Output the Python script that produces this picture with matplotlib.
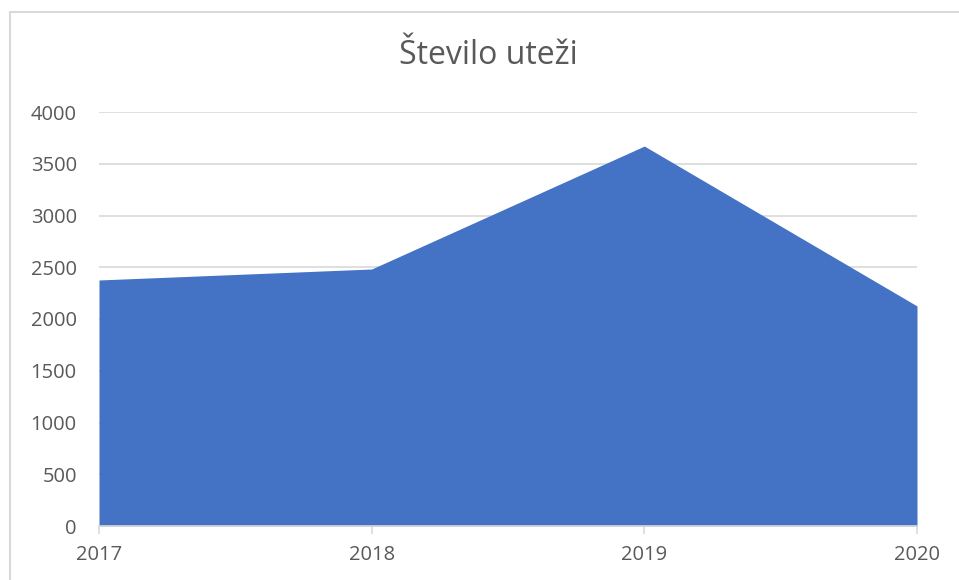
import matplotlib.pyplot as plt
import matplotlib.patches as mpatches

years = ["2017", "2018", "2019", "2020"]
weights = [2377, 2483, 3671, 2126]
y_ticks = [0, 500, 1000, 1500, 2000, 2500, 3000, 3500, 4000]

plt.rcParams['font.family'] = ['Open Sans', 'DejaVu Sans']

fig = plt.figure(figsize=(9.59, 5.80), dpi=100)
ax = fig.add_axes([99 / 959, 54 / 580, 818 / 959, 414 / 580])

x = list(range(len(years)))
ax.fill_between(x, 0, weights, color='#4472C4', linewidth=0, zorder=2)

ax.set_xlim(0, len(years) - 1)
ax.set_ylim(0, 4000)
ax.set_yticks(y_ticks)
ax.set_xticks(x)
ax.set_xticklabels(years)

ax.grid(axis='y', color='#D9D9D9', linewidth=1.2, zorder=1)
ax.set_axisbelow(True)
for s in ['top', 'right', 'left']:
    ax.spines[s].set_visible(False)
ax.spines['bottom'].set_color('#D9D9D9')
ax.spines['bottom'].set_linewidth(1.2)
ax.spines['bottom'].set_zorder(3)

ax.tick_params(axis='y', length=0, pad=16, labelsize=14.5, labelcolor='#595959')
ax.tick_params(axis='x', length=6, width=1.2, color='#D9D9D9', pad=8,
               labelsize=14.5, labelcolor='#595959')

fig.text(488 / 959, 1 - 56 / 580, "Število uteži", ha='center', va='center',
         fontsize=23, color='#595959')

# chart border
fig.patches.append(mpatches.Rectangle((10 / 959, -0.1), 1.2, 0.1 + (580 - 12) / 580,
                                      transform=fig.transFigure, fill=False,
                                      edgecolor='#D9D9D9', linewidth=1.5))

plt.savefig('out.png')
plt.close(fig)
